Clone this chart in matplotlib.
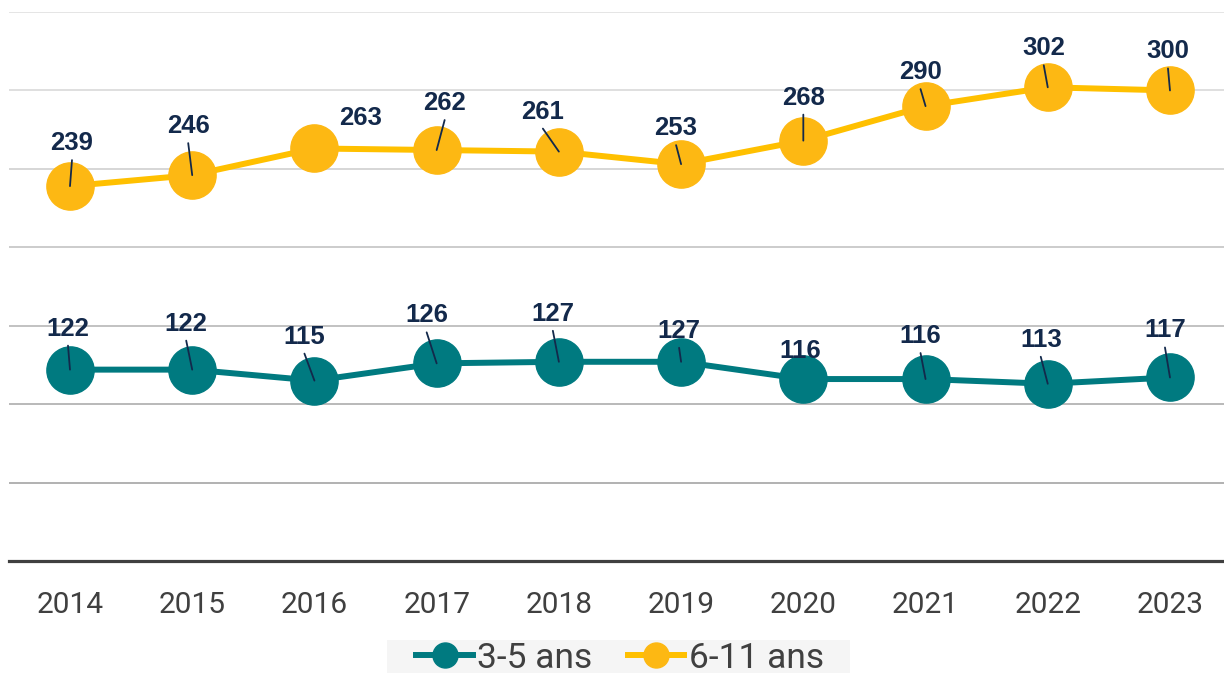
import matplotlib.pyplot as plt
from matplotlib.lines import Line2D
from matplotlib.patches import Rectangle

years = ["2014", "2015", "2016", "2017", "2018", "2019", "2020", "2021", "2022", "2023"]
ans_3_5 = [122, 122, 115, 126, 127, 127, 116, 116, 113, 117]
ans_6_11 = [239, 246, 263, 262, 261, 253, 268, 290, 302, 300]

# label offsets in pixels (dx, dy), and whether a leader line is drawn
off_3_5 = [(-2, 43), (-6, 48), (-10, 46), (-10, 50), (-6, 50), (-2, 33), (-3, 30), (-5, 45), (-7, 46), (-5, 49)]
lead_3_5 = [1, 1, 1, 1, 1, 1, 0, 1, 1, 1]
off_6_11 = [(2, 45), (-4, 51), (46, 32), (8, 49), (-16, 42), (-5, 38), (0, 45), (-5, 36), (-4, 41), (-2, 41)]
lead_6_11 = [1, 1, 0, 1, 1, 1, 1, 1, 1, 1]

teal = "#007A80"
yellow = "#FDB813"
yellow_line = "#FFC000"
navy = "#13294B"
grey_txt = "#404040"

fig = plt.figure(figsize=(12.24, 6.73), dpi=100)
ax = fig.add_axes([9 / 1224, 112 / 673, 1215 / 1224, 549 / 673])

x = list(range(len(years)))

# gridlines, lighter towards the top
grid_vals = [50, 100, 150, 200, 250, 300, 350]
grid_cols = ["#ababab", "#b3b3b3", "#bdbdbd", "#c8c8c8", "#d3d3d3", "#dcdcdc", "#e3e3e3"]
for gv, gc in zip(grid_vals, grid_cols):
    ax.axhline(gv, color=gc, lw=1.3, zorder=0)

ax.plot(x, ans_3_5, color=teal, lw=4.3, marker="o", ms=34, mfc=teal, mec=teal, zorder=2)
ax.plot(x, ans_6_11, color=yellow_line, lw=4.3, marker="o", ms=34, mfc=yellow, mec=yellow, zorder=2)


def add_labels(vals, offs, leads):
    for xi, v, (dx, dy), ld in zip(x, vals, offs, leads):
        if ld:
            ax.annotate("", xy=(xi, v), xytext=(dx, dy - 19), textcoords="offset pixels",
                        arrowprops=dict(arrowstyle="-", color=navy, lw=1.3, shrinkA=0, shrinkB=0),
                        zorder=4)
        ax.annotate(str(v), xy=(xi, v), xytext=(dx, dy - 9), textcoords="offset pixels",
                    ha="center", va="baseline", fontsize=18.5, fontweight="bold",
                    family="Liberation Sans", color=navy, zorder=5)


add_labels(ans_3_5, off_3_5, lead_3_5)
add_labels(ans_6_11, off_6_11, lead_6_11)

ax.set_xlim(-0.499, 9.442)
ax.set_ylim(0, 350)
ax.set_xticks(x)
ax.set_xticklabels(years, fontsize=21.5, family="Roboto", color=grey_txt)
ax.set_yticks([])
ax.tick_params(axis="x", length=0, pad=21.5)
for s in ["top", "left", "right"]:
    ax.spines[s].set_visible(False)
ax.spines["bottom"].set_color(grey_txt)
ax.spines["bottom"].set_linewidth(2.3)
ax.spines["bottom"].set_zorder(3)

# legend
fig.patches.append(Rectangle((387 / 1224, 0), (850 - 387) / 1224, 33 / 673,
                             transform=fig.transFigure, facecolor="#f5f5f5",
                             edgecolor="none", zorder=0))
handles = [
    Line2D([], [], color=teal, lw=4.3, marker="o", ms=18, mfc=teal, mec=teal),
    Line2D([], [], color=yellow_line, lw=4.3, marker="o", ms=18, mfc=yellow, mec=yellow),
]
leg = fig.legend(handles, ["3-5 ans", "6-11 ans"], loc="center",
                 bbox_to_anchor=(620 / 1224, 15 / 673), ncol=2, frameon=False,
                 prop={"family": "Roboto", "size": 25.5}, handlelength=1.6,
                 handletextpad=0.12, columnspacing=1.0, borderaxespad=0)
for t in leg.get_texts():
    t.set_color(grey_txt)

plt.savefig("out.png", dpi=100)
plt.close(fig)
